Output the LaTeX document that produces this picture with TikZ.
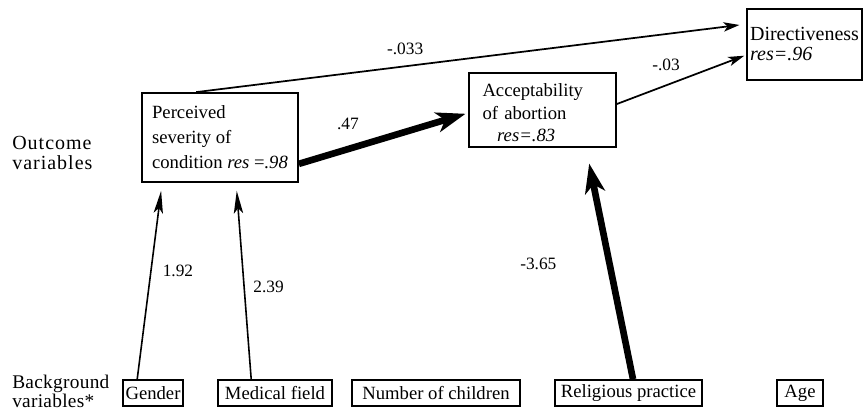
\documentclass[tikz,border=0pt]{standalone}
\usepackage{fontspec}
\setmainfont{Liberation Serif}
\usetikzlibrary{arrows.meta,calc}

\begin{document}
\begin{tikzpicture}[x=0.75pt,y=-0.75pt,font=\fontsize{14}{18.75}\selectfont]
        \tikzstyle{var}=[rectangle,draw=black,line width=1.3pt,align=left,inner sep=0pt]
        \tikzstyle{bgvar}=[rectangle,draw=black,line width=1.2pt,minimum height=19.5pt,inner sep=0pt]
        \tikzstyle{link}=[draw,line width=1.3pt,-{Stealth[length=12pt,width=7pt,inset=3pt]}]
        \tikzstyle{uplink}=[draw,line width=1.2pt,-{Stealth[length=17pt,width=7pt,inset=4pt]}]
        \tikzstyle{boldlink}=[draw,line width=5pt,-{Stealth[length=22pt,width=15pt,inset=6pt]}]
        \tikzstyle{coef}=[font=\fontsize{13}{15}\selectfont]
        \tikzstyle{rowlabel}=[anchor=west,align=left,inner sep=0pt]
        \useasboundingbox (0,0) rectangle (864,414);
       \begin{scope}
         % outcome variables
         \node [var,minimum width=117pt,minimum height=66.75pt] (perc) at (220,137.5) {Perceived\\severity of\\condition \textit{res} =\textit{.98}};
         \node [var,minimum width=110.25pt,minimum height=55.5pt,text width=90pt,font=\fontsize{14}{17}\selectfont] (acc) at (542.5,110) {\rule{0pt}{14pt}Acceptability\\of abortion\\\hspace*{11pt}\textit{res=.83}};
         \node [var,minimum width=86.25pt,minimum height=53.25pt,font=\fontsize{15}{15}\selectfont] (dir) at (804.5,44.5) {Directiveness\\\textit{res=.96}};
         % background variables
         \node [bgvar,minimum width=45pt] (gender) at (153,393) {Gender};
         \node [bgvar,minimum width=85.5pt] (medical) at (275,393) {Medical field};
         \node [bgvar,minimum width=126pt] (children) at (436,393) {Number of children};
         \node [bgvar,minimum width=110.25pt] (religion) at (628.5,393) {Religious practice};
         \node [bgvar,minimum width=34.5pt] (age) at (800,393) {Age};
         % row labels
         \node [rowlabel,font=\fontsize{15}{15}\selectfont\addfontfeatures{LetterSpace=5}] (outcome) at (12,153) {Outcome\\variables};
         \node [rowlabel,font=\fontsize{14.5}{13}\selectfont\addfontfeatures{LetterSpace=1.5}] (background) at (12,391) {Background\\variables*};
         % paths
         \path ($(perc.north west)+(55,0)$) edge [link,shorten >=5pt] node[coef,above=5pt,pos=0.38] {-.033} ($(dir.north west)+(0,16)$);
         \path ($(acc.east)+(0,-6)$) edge [link,shorten >=1.5pt] node[coef,above=7pt,pos=0.38] {-.03} ($(dir.west)+(0,10.5)$);
         \path ($(perc.south east)+(0,-19)$) edge [boldlink,shorten >=2pt] node[coef,above=9pt,pos=0.29] {.47} ($(acc.west)+(0,3)$);
         \path ($(gender.north west)+(15,0)$) edge [uplink,shorten >=6pt] node[coef,right=5pt,pos=0.55] {1.92} ($(perc.south west)+(21,0)$);
         \path ($(medical.north west)+(34,0)$) edge [uplink,shorten >=6pt] node[coef,right=3pt,pos=0.47] {2.39} ($(perc.south west)+(95,0)$);
         \path ($(religion.north)+(4.5,0)$) edge [boldlink,shorten >=12pt] node[coef,left=34pt,pos=0.5] {-3.65} ($(acc.south)+(43.5,0)$);
        \end{scope}
      \end{tikzpicture}
\end{document}
